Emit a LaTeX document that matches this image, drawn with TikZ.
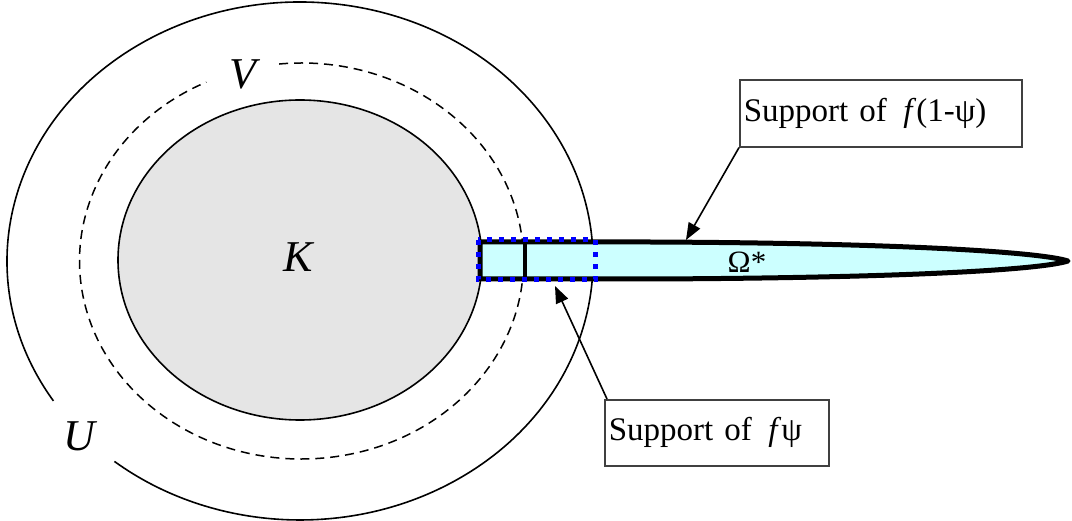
\documentclass[tikz,border=0pt]{standalone}
\usepackage{fontspec}
\setmainfont{Liberation Serif}
\usetikzlibrary{arrows.meta,calc}
\begin{document}
\begin{tikzpicture}[x=1pt,y=-1pt,
  thinline/.style={line width=1.6pt},
  dashline/.style={line width=1.5pt,dash pattern=on 9pt off 6pt},
  labelbox/.style={draw=black!75,line width=1.6pt,align=left,inner sep=4pt,
     font=\fontsize{33}{38}\selectfont,anchor=north west},
  bigital/.style={font=\fontsize{44}{50}\selectfont\itshape},
  pointer/.style={line width=1.6pt,-{Triangle[length=17pt,width=13pt]}}]
\useasboundingbox (0,0) rectangle (1072,521);
% U
\draw[thinline] ($(300,261)+(147.3:293 and 259)$)
  arc[start angle=147.3,end angle=489.3,x radius=293,y radius=259];
% V
\draw[dashline] ($(301.5,261)+(264.2:222 and 198)$)
  arc[start angle=264.2,end angle=604.6,x radius=222,y radius=198];
% K
\draw[thinline,fill=gray!20] (300,260) ellipse[x radius=182,y radius=160];
% strip Omega*
\draw[line width=5pt,fill={rgb,255:red,204;green,255;blue,255},line join=round]
  (480,242) -- (650,242) .. controls (900,243) and (1040,252) .. (1068,261)
  .. controls (1040,270) and (900,278) .. (650,279) -- (480,279) -- cycle;
\draw[line width=4pt] (525,242) -- (525,279);
\draw[blue,line width=5pt,dash pattern=on 5pt off 7pt] (478,240) rectangle (595,280);
% labels
\node[bigital] (K) at (298,257) {K};
\node[bigital] (V) at (243,74) {V};
\node[bigital] (U) at (79,436) {U};
\node[font=\fontsize{31}{35}\selectfont] (om) at (747,262) {Ω*};
% boxes
\node[labelbox,text width=274pt,minimum height=67pt] (b1) at (739,79)
  {Support of \,\textit{f}(1-ψ)};
\node[labelbox,text width=216pt,minimum height=66pt] (b2) at (604,399)
  {Support of \,\textit{f}ψ};
\coordinate (t1) at (686,240);
\coordinate (t2) at (555,286);
\draw[pointer] (b1.south west) -- (t1);
\draw[pointer] ($(b2.north west)+(3,0)$) -- (t2);
\end{tikzpicture}
\end{document}
